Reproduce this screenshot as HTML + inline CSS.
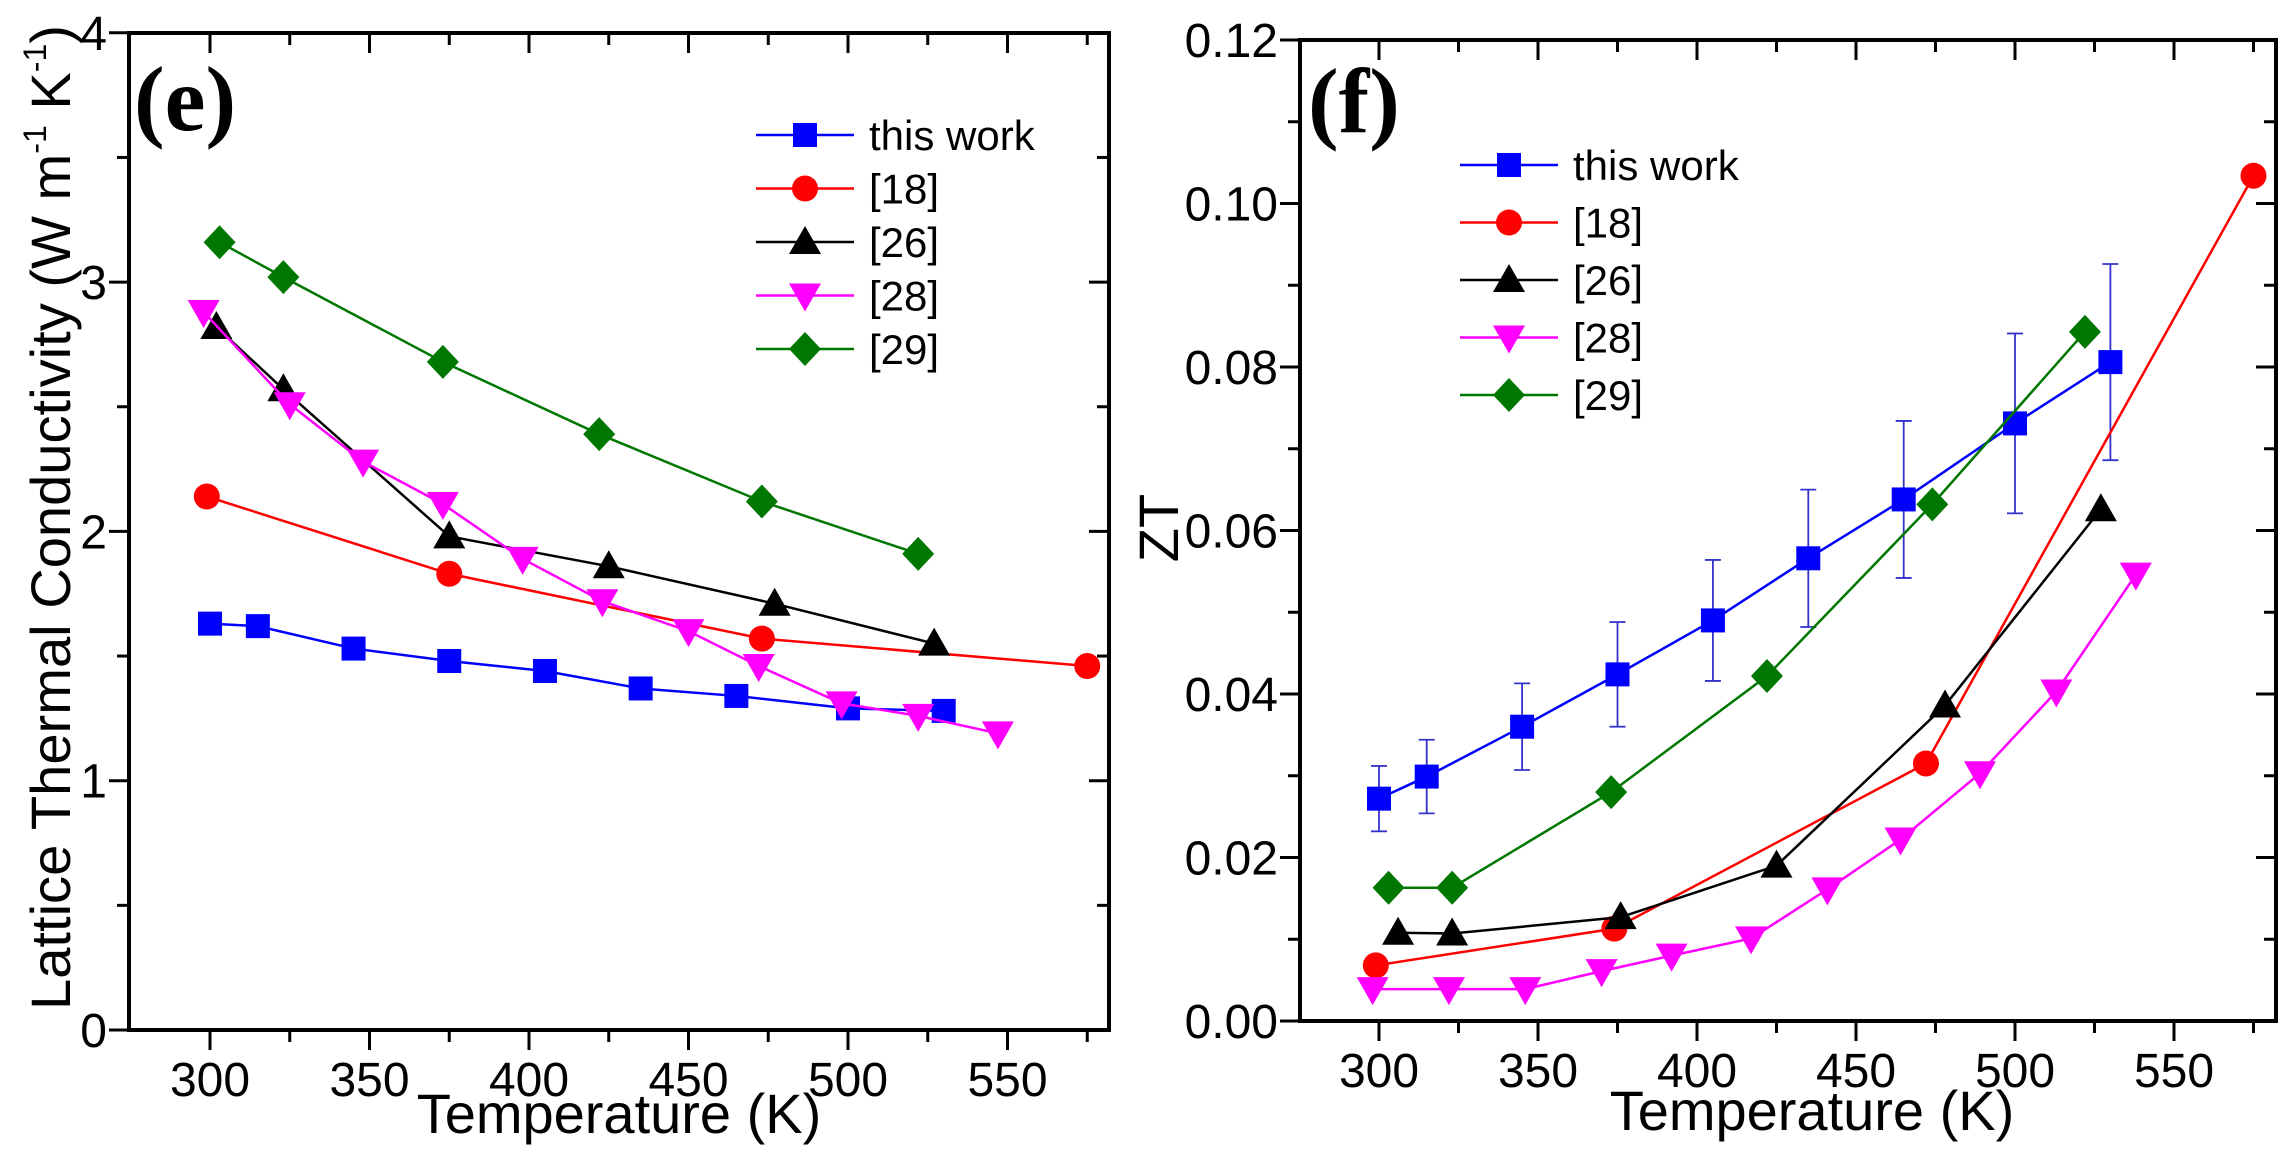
<!DOCTYPE html>
<html><head><meta charset="utf-8"><style>
html,body{margin:0;padding:0;background:#fff}
svg{display:block}
text{font-family:"Liberation Sans",sans-serif;fill:#000}
</style></head><body>
<svg id="fig" width="2281" height="1162" viewBox="0 0 2281 1162" xmlns="http://www.w3.org/2000/svg">
<g id="pe"></g>
<g id="pf"></g>
</svg>
<script>
// ---- Panel (e) data ----
const eXTicks = [300, 350, 400, 450, 500, 550];
const eYTicks = [0, 1, 2, 3, 4];
const eThisT = [300, 315, 345, 375, 405, 435, 465, 500, 530];
const eThisV = [1.63, 1.62, 1.53, 1.48, 1.44, 1.37, 1.34, 1.29, 1.28];
const e18T = [299, 375, 473, 575];
const e18V = [2.14, 1.83, 1.57, 1.46];
const e26T = [302, 323, 375, 425, 477, 527];
const e26V = [2.82, 2.57, 1.98, 1.86, 1.71, 1.55];
const e28T = [298, 325, 348, 373, 398, 423, 450, 472, 498, 522, 547];
const e28V = [2.88, 2.51, 2.28, 2.11, 1.89, 1.72, 1.60, 1.46, 1.31, 1.26, 1.19];
const e29T = [303, 323, 373, 422, 473, 522];
const e29V = [3.16, 3.02, 2.68, 2.39, 2.12, 1.91];
// ---- Panel (f) data ----
const fXTicks = [300, 350, 400, 450, 500, 550];
const fYTicks = [0, 0.02, 0.04, 0.06, 0.08, 0.10, 0.12];
const fYLabels = ["0.00", "0.02", "0.04", "0.06", "0.08", "0.10", "0.12"];
const fThisT = [300, 315, 345, 375, 405, 435, 465, 500, 530];
const fThisV = [0.0272, 0.0299, 0.0360, 0.0424, 0.0490, 0.0566, 0.0638, 0.0731, 0.0806];
const fThisErr = [0.004, 0.0045, 0.0053, 0.0064, 0.0074, 0.0084, 0.0096, 0.011, 0.012];
const f18T = [299, 374, 472, 575];
const f18V = [0.0068, 0.0113, 0.0315, 0.1034];
const f26T = [306, 323, 376, 425, 478, 527];
const f26V = [0.0108, 0.0107, 0.0127, 0.0190, 0.0386, 0.0626];
const f28T = [298, 322, 346, 370, 392, 417, 441, 464, 489, 513, 538];
const f28V = [0.0039, 0.0039, 0.0039, 0.0061, 0.0080, 0.0101, 0.0161, 0.0222, 0.0303, 0.0403, 0.0546];
const f29T = [303, 323, 373, 422, 474, 522];
const f29V = [0.0163, 0.0163, 0.0280, 0.0422, 0.0632, 0.0843];
const legendLabels = ["this work", "[18]", "[26]", "[28]", "[29]"];

const NS = "http://www.w3.org/2000/svg";
function mk(parent, tag, attrs, txt) {
  const el = document.createElementNS(NS, tag);
  for (const k in attrs) el.setAttribute(k, attrs[k]);
  if (txt !== undefined) el.textContent = txt;
  parent.appendChild(el);
  return el;
}
function marker(g, kind, cx, cy, color) {
  let el;
  if (kind === "square") el = mk(g, "rect", {x: cx - 12, y: cy - 12, width: 24, height: 24, fill: color});
  else if (kind === "circle") el = mk(g, "ellipse", {cx: cx, cy: cy, rx: 13, ry: 13, fill: color});
  else if (kind === "up") el = mk(g, "polygon", {points: `${cx},${cy-16} ${cx+16},${cy+12} ${cx-16},${cy+12}`, fill: color});
  else if (kind === "down") el = mk(g, "polygon", {points: `${cx-16},${cy-12} ${cx+16},${cy-12} ${cx},${cy+16}`, fill: color});
  else el = mk(g, "polygon", {points: `${cx},${cy-17} ${cx+16},${cy} ${cx},${cy+17} ${cx-16},${cy}`, fill: color});
  
  
  return el;
}
function series(g, name, T, V, xs, ys, color, kind) {
  const sg = mk(g, "g", {});
  
  
  const pts = T.map((t, i) => xs(t) + "," + ys(V[i])).join(" ");
  const pl = mk(sg, "polyline", {points: pts, fill: "none", stroke: color, "stroke-width": 2.5});
  
  
  T.forEach((t, i) => marker(sg, kind, xs(t), ys(V[i]), color));
}
function frame(g, L, R, T, B, xs, ys, xTicks, xMinor, yTicks, yMinor, yLabels) {
  const ax = mk(g, "rect", {x: L, y: T, width: R - L, height: B - T, fill: "none", stroke: "#000", "stroke-width": 4});
  
  
  xMinor.forEach(t => {
    const x = xs(t), major = xTicks.includes(t), len = major ? 20 : 12;
    mk(g, "line", {x1: x, y1: B, x2: x, y2: B + len, stroke: "#000", "stroke-width": 3});
    mk(g, "line", {x1: x, y1: T, x2: x, y2: T + len, stroke: "#000", "stroke-width": 3});
  });
  xTicks.forEach(t => {
    const tl = mk(g, "text", {x: xs(t), y: B + 66, "font-size": 48, "text-anchor": "middle"}, String(t));
    
    
  });
  yMinor.forEach(v => {
    const y = ys(v), major = yTicks.some(m => Math.abs(m - v) < 1e-9), len = major ? 20 : 12;
    mk(g, "line", {x1: L - len, y1: y, x2: L, y2: y, stroke: "#000", "stroke-width": 3});
    mk(g, "line", {x1: R - len, y1: y, x2: R, y2: y, stroke: "#000", "stroke-width": 3});
  });
  yTicks.forEach((v, i) => {
    const tl = mk(g, "text", {x: L - 22, y: ys(v) + 17, "font-size": 48, "text-anchor": "end"}, yLabels[i]);
    
    
  });
}
function legend(g, x0, y0, dy, colors, kinds) {
  const lg = mk(g, "g", {});
  
  
  legendLabels.forEach((lab, i) => {
    const y = y0 + i * dy;
    const eg = mk(lg, "g", {});
    
    
    mk(eg, "line", {x1: x0, y1: y, x2: x0 + 98, y2: y, stroke: colors[i], "stroke-width": 2.5});
    marker(eg, kinds[i], x0 + 49, y, colors[i]);
    mk(eg, "text", {x: x0 + 113, y: y + 15, "font-size": 42}, lab);
  });
}
const colors = ["#0000ff", "#ff0000", "#000000", "#ff00ff", "#007700"];
const kinds = ["square", "circle", "up", "down", "diamond"];
const minorT = [300, 325, 350, 375, 400, 425, 450, 475, 500, 525, 550, 575];

// ---- Panel e ----
(function(){
  const g = document.getElementById("pe");
  const L = 129, R = 1109, T = 33, B = 1030;
  const xs = t => 210 + (t - 300) * 3.19;
  const ys = v => B - v * 249.3;
  const yMinor = [0, 0.5, 1, 1.5, 2, 2.5, 3, 3.5, 4];
  frame(g, L, R, T, B, xs, ys, eXTicks, minorT, eYTicks, yMinor, eYTicks.map(String));
  series(g, "series-this-work", eThisT, eThisV, xs, ys, colors[0], "square");
  series(g, "series-ref-18", e18T, e18V, xs, ys, colors[1], "circle");
  series(g, "series-ref-26", e26T, e26V, xs, ys, colors[2], "up");
  series(g, "series-ref-28", e28T, e28V, xs, ys, colors[3], "down");
  series(g, "series-ref-29", e29T, e29V, xs, ys, colors[4], "diamond");
  legend(g, 756, 135, 53.5, colors, kinds);
  const pl = mk(g, "text", {x: 134, y: 130, "font-size": 92, "font-weight": "bold", style: "font-family:'Liberation Serif',serif"}, "(e)");
   
  const xt = mk(g, "text", {x: 619, y: 1133, "font-size": 56, "text-anchor": "middle"}, "Temperature (K)");
   
  const yt = mk(g, "text", {x: 0, y: 0, "font-size": 56, transform: "translate(70,1010) rotate(-90)", textLength: 985, lengthAdjust: "spacingAndGlyphs"});
   
  yt.innerHTML = 'Lattice Thermal Conductivity (W m<tspan font-size="32" dy="-24">-1</tspan><tspan dy="24"> K</tspan><tspan font-size="32" dy="-24">-1</tspan><tspan dy="24">)</tspan>';
})();

// ---- Panel f ----
(function(){
  const g = document.getElementById("pf");
  const L = 1300, R = 2276, T = 40, B = 1021;
  const xs = t => 1379 + (t - 300) * 3.18;
  const ys = v => B - v * 8175;
  const yMinor = [0,0.01,0.02,0.03,0.04,0.05,0.06,0.07,0.08,0.09,0.10,0.11,0.12];
  frame(g, L, R, T, B, xs, ys, fXTicks, minorT, fYTicks, yMinor, fYLabels);
  const eg = mk(g, "g", {});
  
  
  fThisT.forEach((t, i) => {
    const x = xs(t), y1 = ys(fThisV[i] - fThisErr[i]), y2 = ys(fThisV[i] + fThisErr[i]);
    mk(eg, "line", {x1: x, y1: y1, x2: x, y2: y2, stroke: "#3333cc", "stroke-width": 1.8});
    mk(eg, "line", {x1: x - 8, y1: y1, x2: x + 8, y2: y1, stroke: "#3333cc", "stroke-width": 1.8});
    mk(eg, "line", {x1: x - 8, y1: y2, x2: x + 8, y2: y2, stroke: "#3333cc", "stroke-width": 1.8});
  });
  series(g, "series-this-work", fThisT, fThisV, xs, ys, colors[0], "square");
  series(g, "series-ref-18", f18T, f18V, xs, ys, colors[1], "circle");
  series(g, "series-ref-26", f26T, f26V, xs, ys, colors[2], "up");
  series(g, "series-ref-28", f28T, f28V, xs, ys, colors[3], "down");
  series(g, "series-ref-29", f29T, f29V, xs, ys, colors[4], "diamond");
  legend(g, 1460, 165, 57.5, colors, kinds);
  const pl = mk(g, "text", {x: 1308, y: 132, "font-size": 92, "font-weight": "bold", style: "font-family:'Liberation Serif',serif"}, "(f)");
   
  const xt = mk(g, "text", {x: 1812, y: 1130, "font-size": 56, "text-anchor": "middle"}, "Temperature (K)");
   
  const yt = mk(g, "text", {x: 0, y: 0, "font-size": 56, "text-anchor": "middle", transform: "translate(1178,528) rotate(-90)"}, "ZT");
   
})();
</script>
</body></html>
